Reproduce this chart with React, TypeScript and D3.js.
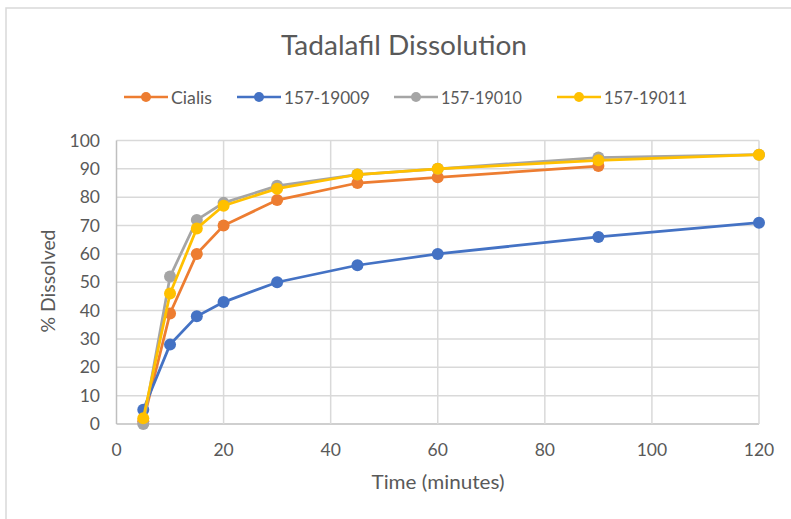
import React from "react";
import * as d3 from "d3";

const times = [5, 10, 15, 20, 30, 45, 60, 90, 120];
const seriesNames = ["Cialis", "157-19009", "157-19010", "157-19011"];
const cialis: (number | null)[] = [1, 39, 60, 70, 79, 85, 87, 91, null];
const s19009: (number | null)[] = [5, 28, 38, 43, 50, 56, 60, 66, 71];
const s19010: (number | null)[] = [0, 52, 72, 78, 84, 88, 90, 94, 95];
const s19011: (number | null)[] = [2, 46, 69, 77, 83, 88, 90, 93, 95];
const colors = ["#ED7D31", "#4472C4", "#A5A5A5", "#FFC000"];
const xTicks = [0, 20, 40, 60, 80, 100, 120];
const yTicks = [0, 10, 20, 30, 40, 50, 60, 70, 80, 90, 100];

const W = 791;
const H = 519;
const font = "Lato, 'Open Sans', sans-serif";

export default function App() {
  const x = d3.scaleLinear().domain([0, 120]).range([116.5, 759]);
  const y = d3.scaleLinear().domain([0, 100]).range([424, 140.5]);
  const all = [cialis, s19009, s19010, s19011];
  const line = d3
    .line<[number, number | null]>()
    .defined((d) => d[1] !== null)
    .x((d) => x(d[0]))
    .y((d) => y(d[1] as number));
  const legendX = [124, 237, 394, 557];
  const legendTextLen = [41, 86, 81, 83];
  return (
    <svg width={W} height={H} style={{ position: "absolute", left: 0, top: 0 }}>
      <rect x={0} y={0} width={W} height={H} fill="#fff" />
      <rect x={6} y={8} width={W + 20} height={H + 20} fill="none" stroke="#D9D9D9" strokeWidth={1.5} />
      <text
        x={404}
        y={55}
        textAnchor="middle"
        fontFamily={font}
        fontSize={27}
        fill="#595959"
        textLength={246}
        lengthAdjust="spacingAndGlyphs"
      >
        Tadalafil Dissolution
      </text>
      {seriesNames.map((n, i) => (
        <g key={n}>
          <line x1={legendX[i]} x2={legendX[i] + 44} y1={97} y2={97} stroke={colors[i]} strokeWidth={2.5} />
          <circle cx={legendX[i] + 22} cy={97} r={5} fill={colors[i]} />
          <text
            x={legendX[i] + 47}
            y={103.5}
            fontFamily={font}
            fontSize={18}
            fill="#595959"
            textLength={legendTextLen[i]}
            lengthAdjust="spacingAndGlyphs"
          >
            {n}
          </text>
        </g>
      ))}
      {yTicks.map((t) => (
        <g key={"y" + t}>
          <line x1={x(0)} x2={x(120)} y1={y(t)} y2={y(t)} stroke={t === 0 ? "#BFBFBF" : "#D9D9D9"} strokeWidth={1.5} />
          <text x={100} y={y(t) + 6} textAnchor="end" fontFamily={font} fontSize={17.5} fill="#595959">
            {t}
          </text>
        </g>
      ))}
      {xTicks.map((t) => (
        <g key={"x" + t}>
          <line x1={x(t)} x2={x(t)} y1={y(0)} y2={y(100)} stroke={t === 0 ? "#BFBFBF" : "#D9D9D9"} strokeWidth={1.5} />
          <text x={x(t)} y={456} textAnchor="middle" fontFamily={font} fontSize={17.5} fill="#595959">
            {t}
          </text>
        </g>
      ))}
      <text
        x={438}
        y={489}
        textAnchor="middle"
        fontFamily={font}
        fontSize={19}
        fill="#595959"
        textLength={133}
        lengthAdjust="spacingAndGlyphs"
      >
        Time (minutes)
      </text>
      <text
        transform={`translate(55,${281}) rotate(-90)`}
        textAnchor="middle"
        fontFamily={font}
        fontSize={19}
        fill="#595959"
        textLength={103}
        lengthAdjust="spacingAndGlyphs"
      >
        % Dissolved
      </text>
      {all.map((s, i) => {
        const pts = times.map((t, j) => [t, s[j]] as [number, number | null]);
        return (
          <g key={"s" + i}>
            <path d={line(pts) || ""} fill="none" stroke={colors[i]} strokeWidth={2.75} />
            {pts
              .filter((p) => p[1] !== null)
              .map((p, j) => (
                <circle key={j} cx={x(p[0])} cy={y(p[1] as number)} r={6} fill={colors[i]} />
              ))}
          </g>
        );
      })}
    </svg>
  );
}
